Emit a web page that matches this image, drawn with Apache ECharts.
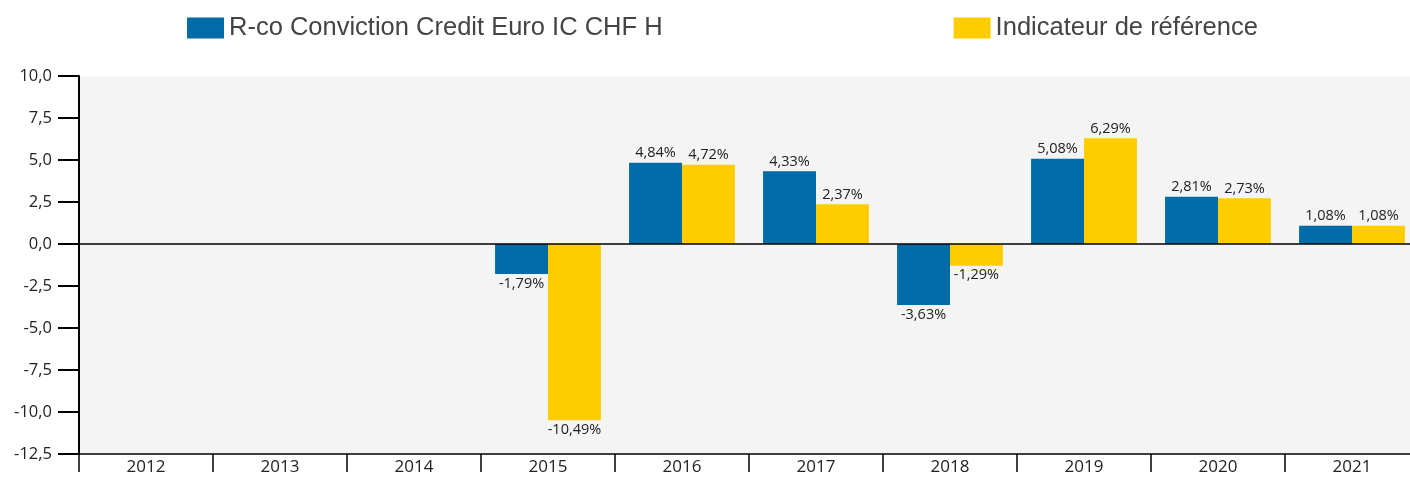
<!DOCTYPE html>
<html>
<head>
<meta charset="utf-8">
<script src="https://cdn.jsdelivr.net/npm/echarts@6/dist/echarts.min.js"></script>
<style>
  html, body { margin: 0; padding: 0; background: #fff; overflow: hidden; }
  #chart { width: 1419px; height: 477px; }
</style>
</head>
<body>
<div id="chart"></div>
<script>
// données
var years = ['2012', '2013', '2014', '2015', '2016', '2017', '2018', '2019', '2020', '2021'];
var fonds = [null, null, null, -1.79, 4.84, 4.33, -3.63, 5.08, 2.81, 1.08];
var indice = [null, null, null, -10.49, 4.72, 2.37, -1.29, 6.29, 2.73, 1.08];
var seriesNames = ['R-co Conviction Credit Euro IC CHF H', 'Indicateur de référence'];

var chart = echarts.init(document.getElementById('chart'));

function pct(p) {
    return p.value.toFixed(2).replace('.', ',') + '%';
}

function withLabels(arr) {
    // label en haut si positif, en bas si négatif
    return arr.map(function (v) {
        if (v === null) return null;
        return { value: v, label: { position: v < 0 ? 'bottom' : 'top' } };
    });
}

var labelStyle = {
    show: true,
    formatter: pct,
    fontSize: 14.5,
    color: '#222',
    fontFamily: '"Open Sans", "Noto Sans", sans-serif',
    distance: 2
};

var option = {
    animation: false,
    backgroundColor: '#fff',
    legend: {
        left: 182,
        top: 10,
        itemWidth: 37,
        itemHeight: 21,
        itemGap: 291,
        icon: 'rect',
        textStyle: {
            fontSize: 25.5,
            color: '#444',
            fontFamily: '"Liberation Sans", Arial, sans-serif',
            padding: [0, 0, 0, 0]
        },
        data: seriesNames
    },
    grid: {
        left: 79,
        right: 0,
        top: 76,
        bottom: 23,
        show: true,
        backgroundColor: '#f4f4f4',
        borderWidth: 0
    },
    xAxis: {
        type: 'category',
        data: years,
        axisLine: { onZero: false, lineStyle: { color: '#000', width: 1.5 } },
        axisTick: { show: true, length: 18, lineStyle: { color: '#000', width: 1.5 } },
        axisLabel: {
            fontSize: 17,
            color: '#222',
            margin: 5,
            fontFamily: '"Open Sans", "Noto Sans", sans-serif'
        }
    },
    yAxis: {
        type: 'value',
        min: -12.5,
        max: 10,
        interval: 2.5,
        axisLine: { show: true, lineStyle: { color: '#000', width: 2 } },
        axisTick: { show: true, length: 21, lineStyle: { color: '#000', width: 2 } },
        splitLine: { show: false },
        axisLabel: {
            fontSize: 16.5,
            color: '#222',
            margin: 27,
            fontFamily: '"Open Sans", "Noto Sans", sans-serif',
            formatter: function (v) { return v.toFixed(1).replace('.', ','); }
        }
    },
    series: [{
        name: seriesNames[0],
        type: 'bar',
        barGap: 0,
        barCategoryGap: '21%',
        itemStyle: { color: '#006ba6' },
        label: labelStyle,
        data: withLabels(fonds),
        markLine: {
            silent: true,
            symbol: 'none',
            label: { show: false },
            lineStyle: { color: '#000', width: 1.5, type: 'solid' },
            data: [{ yAxis: 0 }]
        }
    }, {
        name: seriesNames[1],
        type: 'bar',
        itemStyle: { color: '#ffcc00' },
        label: labelStyle,
        data: withLabels(indice)
    }]
};

chart.setOption(option);
</script>
</body>
</html>
